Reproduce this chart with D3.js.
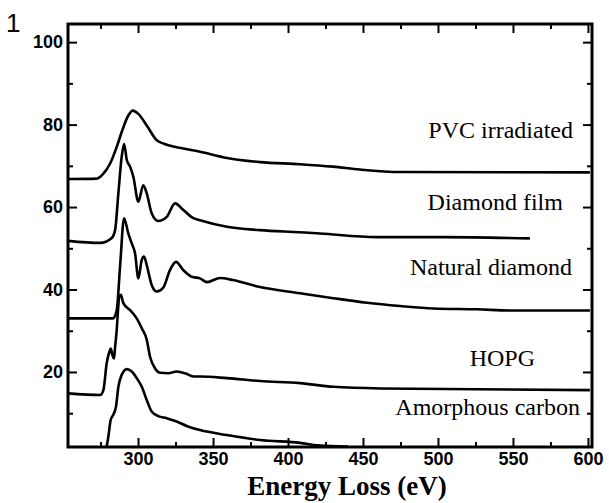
<!DOCTYPE html>
<html>
<head>
<meta charset="utf-8">
<script src="https://cdn.jsdelivr.net/npm/d3@7"></script>
<style>
  body { margin: 0; background: #fff; }
  svg { display: block; }
</style>
</head>
<body>
<div id="main"></div>
<script>
// spectra: [energy loss (eV), intensity]
const pvc = [[253.3,66.8],[272.5,66.9],[276.9,68.1],[281.3,70.5],[285.8,74.6],[289.1,78.2],[293.5,82.2],
  [296.5,83.4],[300.2,82.6],[305.8,79.8],[312.5,76.2],[316.9,75.4],[330.2,74.2],[341.3,73.4],[359.3,71.9],
  [381.3,70.9],[408,70.4],[430,69.8],[448,69.1],[474.7,68.5],[601.3,68.4]];

const diamondFilm = [[253.3,51.8],[274.7,51.3],[282.5,52.5],[284.7,54.4],[286.9,63.4],[289.1,72.2],[290.7,75.3],
  [292.5,71.4],[294.7,69.8],[296.9,67.3],[300.2,61.3],[303.5,65.3],[305.8,63.3],[309.1,58.5],[313.5,56.6],
  [319.1,57.6],[324.7,60.9],[330.2,59.3],[336.9,57.3],[341.3,56.8],[359.3,55.2],[381.3,54.4],[408,53.9],
  [421.3,53.6],[459,52.7],[503.5,52.7],[561.3,52.4]];

const naturalDiamond = [[253.3,33.0],[283.3,33.0],[285.8,35.0],[288,45.5],[290.7,57.3],[293.5,53.6],[295.8,51.2],
  [298,48.8],[300.2,42.7],[302.5,47.2],[304,48.0],[305.8,45.9],[309.1,41.1],[312.5,39.5],[316.9,40.5],
  [321.3,44.7],[325.3,46.7],[330.2,44.7],[335.8,43.1],[341.3,42.7],[346,41.8],[354.7,42.8],[363.3,42.3],
  [381.3,40.6],[408,39.1],[430.2,37.9],[452.5,36.8],[474.7,36.0],[496.9,35.4],[525.8,35.2],[550.2,34.9],[601.3,34.9]];

const hopg = [[253.3,14.8],[274.7,14.4],[276.9,15.6],[279.1,22.1],[280.9,24.9],[281.8,25.7],[282.9,24.1],
  [284,23.3],[284.7,26.1],[285.8,30.2],[286.5,34.2],[287.5,38.3],[288.5,38.7],[290.2,36.7],[294.7,35.0],
  [299.1,33.0],[302.5,30.6],[305.8,27.8],[308,23.7],[311.3,20.9],[314.7,19.8],[320.2,19.7],[325.8,20.1],
  [331.3,19.7],[336.9,18.9],[341.3,18.9],[359.3,18.5],[381.3,17.8],[408,17.3],[430.2,16.4],[461.3,16.0],[601.3,15.6]];

const amorphous = [[279.1,1.9],[280.2,4.3],[281.8,8.4],[283.5,9.6],[285.3,11.6],[286.9,16.4],[289.1,19.3],
  [292.5,20.7],[295.8,20.1],[299.1,18.5],[302.5,16.4],[305.8,13.2],[309.1,10.4],[313.5,9.3],[319.1,8.8],
  [325.8,8.0],[332.5,6.9],[341.3,5.9],[359.3,4.7],[381.3,3.5],[408,2.8],[420,2.2],[440,1.9]];

const seriesNames = ["PVC irradiated", "Diamond film", "Natural diamond", "HOPG", "Amorphous carbon"];
// where each name sits (right end of the text), in data units
const labelAt = [[590,76.7],[583.3,59.3],[589.3,43.5],[564.7,21.5],[594.7,9.6]];

const xMajor = [300, 350, 400, 450, 500, 550, 600];
const xMinor = [275, 325, 375, 425, 475, 525, 575];
const yMajor = [20, 40, 60, 80, 100];
const yMinor = [10, 30, 50, 70, 90];

const W = 609, H = 503;

const svg = d3.select("#main")
  .append("svg")
  .attr("width", W)
  .attr("height", H);

const x = d3.scaleLinear().domain([253.3, 602.7]).range([68, 592]);
const y = d3.scaleLinear().domain([1.8, 104.4]).range([447, 24]);

// axes, ticks point inward on all four sides
const axisB = svg.append("g").attr("transform", "translate(0," + y.range()[0] + ")");
axisB.call(d3.axisBottom(x).tickValues(xMajor).tickSize(-9).tickPadding(5).tickFormat(d3.format("d")));
axisB.append("g").call(d3.axisBottom(x).tickValues(xMinor).tickSize(-5).tickFormat(""));

const axisL = svg.append("g").attr("transform", "translate(" + x.range()[0] + ",0)");
axisL.call(d3.axisLeft(y).tickValues(yMajor).tickSize(-9).tickPadding(5).tickFormat(d3.format("d")));
axisL.append("g").call(d3.axisLeft(y).tickValues(yMinor).tickSize(-5).tickFormat(""));

const axisT = svg.append("g").attr("transform", "translate(0," + y.range()[1] + ")");
axisT.call(d3.axisTop(x).tickValues(xMajor).tickSize(-9).tickFormat(""));
axisT.append("g").call(d3.axisTop(x).tickValues(xMinor).tickSize(-5).tickFormat(""));

const axisR = svg.append("g").attr("transform", "translate(" + x.range()[1] + ",0)");
axisR.call(d3.axisRight(y).tickValues(yMajor).tickSize(-9).tickFormat(""));
axisR.append("g").call(d3.axisRight(y).tickValues(yMinor).tickSize(-5).tickFormat(""));

svg.selectAll(".domain").remove();
svg.selectAll(".tick line").attr("stroke", "#000").attr("stroke-width", 2);
svg.selectAll(".tick text")
  .attr("fill", "#000")
  .style("font-family", "'Liberation Sans', Arial, sans-serif")
  .style("font-weight", "bold");
axisB.selectAll(".tick text").style("font-size", "18px");
axisL.selectAll(".tick text").style("font-size", "18px");

svg.append("rect")
  .attr("x", x.range()[0])
  .attr("y", y.range()[1])
  .attr("width", x.range()[1] - x.range()[0])
  .attr("height", y.range()[0] - y.range()[1])
  .attr("fill", "none")
  .attr("stroke", "#000")
  .attr("stroke-width", 3);

// spectra
const line = d3.line()
  .x((d) => x(d[0]))
  .y((d) => y(d[1]))
  .curve(d3.curveMonotoneX);

svg.selectAll(".spectrum")
  .data([pvc, diamondFilm, naturalDiamond, hopg, amorphous])
  .enter().append("path")
  .attr("class", "spectrum")
  .attr("d", line)
  .attr("fill", "none")
  .attr("stroke", "#000")
  .attr("stroke-width", 2.6)
  .attr("stroke-linejoin", "round");

svg.selectAll(".name")
  .data(seriesNames)
  .enter().append("text")
  .attr("class", "name")
  .attr("x", (d, i) => x(labelAt[i][0]))
  .attr("y", (d, i) => y(labelAt[i][1]))
  .attr("text-anchor", "end")
  .style("font-family", "'Liberation Serif', 'Times New Roman', serif")
  .style("font-size", "24px")
  .text((d) => d);

// axis title and panel number
svg.append("text")
  .attr("x", (x.range()[0] + x.range()[1]) / 2 + 17)
  .attr("y", 495)
  .attr("text-anchor", "middle")
  .style("font-family", "'Liberation Serif', 'Times New Roman', serif")
  .style("font-weight", "bold")
  .style("font-size", "27px")
  .text("Energy Loss (eV)");

svg.append("text")
  .attr("x", 6)
  .attr("y", 32)
  .style("font-family", "'Liberation Sans', Arial, sans-serif")
  .style("font-size", "26px")
  .text("1");
</script>
</body>
</html>
